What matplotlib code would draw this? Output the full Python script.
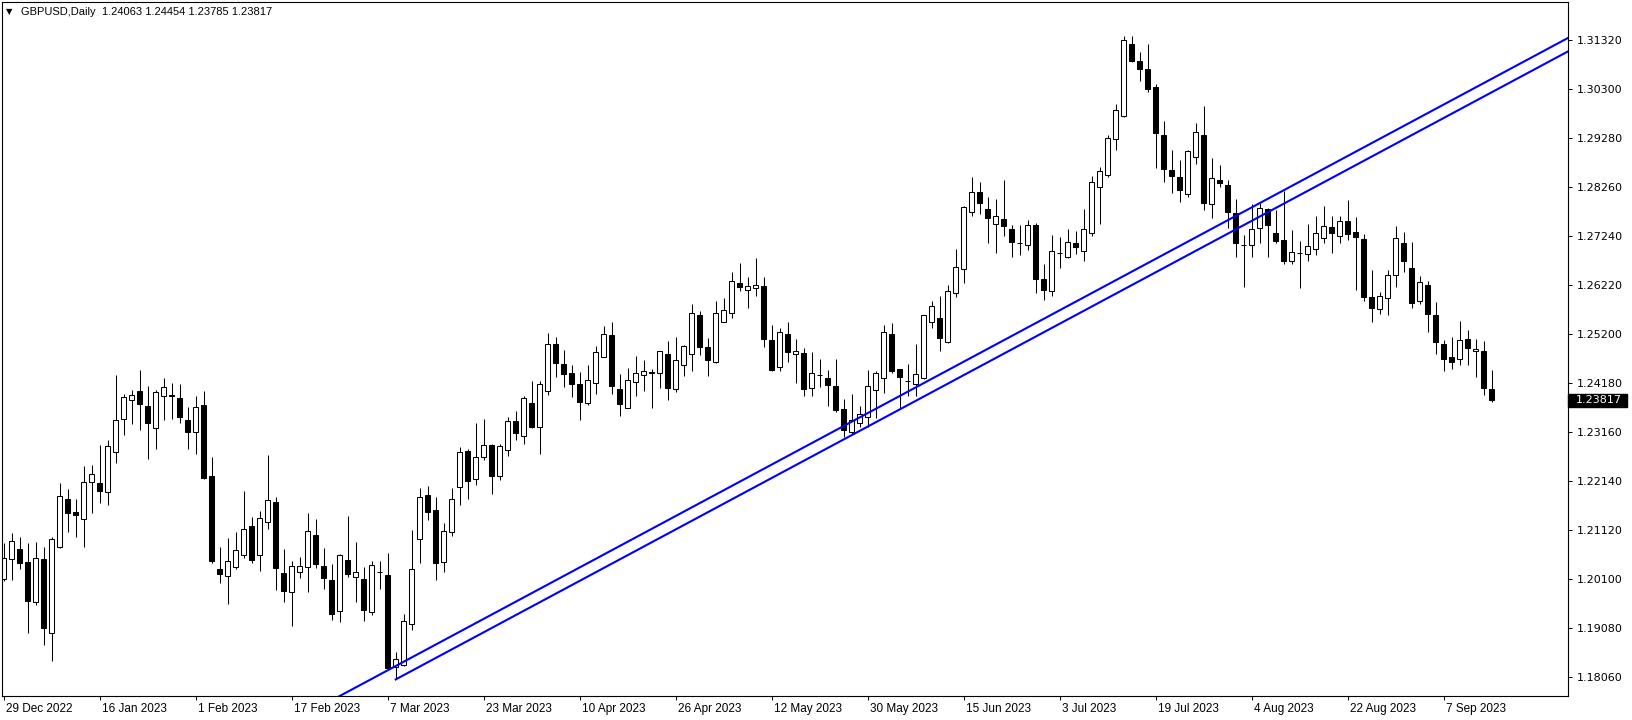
import numpy as np
import pandas as pd
import matplotlib
matplotlib.use('Agg')
import matplotlib.pyplot as plt
import matplotlib.transforms as mtransforms
from matplotlib.patches import Rectangle

# GBPUSD daily candles, 29 Dec 2022 .. 15 Sep 2023 (weekdays)
dates = pd.bdate_range('2022-12-29', periods=187)

opens = [1.2011, 1.2051, 1.2072, 1.2045, 1.1963, 1.2051, 1.1897, 1.2077, 1.2176, 1.2149,
         1.2134, 1.2211, 1.2209, 1.2192, 1.2274, 1.2344, 1.2382, 1.2401, 1.2371, 1.2324,
         1.2392, 1.2393, 1.2386, 1.2342, 1.2315, 1.2372, 1.2224, 1.2031, 1.2016, 1.2034,
         1.2061, 1.2120, 1.2061, 1.2128, 1.2170, 1.2022, 1.1984, 1.2024, 1.2036, 1.2101,
         1.2037, 1.2007, 1.1944, 1.2049, 1.2014, 1.2011, 1.1941, 1.2024, 1.2018, 1.1827,
         1.1830, 1.1916, 1.2093, 1.2184, 1.2154, 1.2046, 1.2107, 1.2201, 1.2276, 1.2218,
         1.2265, 1.2288, 1.2224, 1.2278, 1.2338, 1.2307, 1.2376, 1.2326, 1.2401, 1.2499,
         1.2457, 1.2438, 1.2415, 1.2377, 1.2417, 1.2473, 1.2518, 1.2405, 1.2367, 1.2421,
         1.2435, 1.2440, 1.2439, 1.2478, 1.2405, 1.2456, 1.2479, 1.2559, 1.2494, 1.2462,
         1.2546, 1.2563, 1.2626, 1.2611, 1.2615, 1.2620, 1.2507, 1.2451, 1.2520, 1.2478,
         1.2480, 1.2407, 1.2435, 1.2428, 1.2411, 1.2363, 1.2317, 1.2335, 1.2348, 1.2403,
         1.2429, 1.2520, 1.2447, 1.2423, 1.2415, 1.2429, 1.2546, 1.2553, 1.2504, 1.2605,
         1.2655, 1.2773, 1.2815, 1.2780, 1.2748, 1.2759, 1.2738, 1.2709, 1.2705, 1.2746,
         1.2634, 1.2609, 1.2688, 1.2680, 1.2709, 1.2693, 1.2730, 1.2825, 1.2850, 1.2925,
         1.2973, 1.3123, 1.3088, 1.3071, 1.3035, 1.2934, 1.2861, 1.2846, 1.2812, 1.2888,
         1.2934, 1.2790, 1.2841, 1.2831, 1.2771, 1.2706, 1.2705, 1.2740, 1.2780, 1.2730,
         1.2715, 1.2673, 1.2688, 1.2686, 1.2696, 1.2719, 1.2742, 1.2723, 1.2755, 1.2732,
         1.2717, 1.2598, 1.2573, 1.2594, 1.2642, 1.2709, 1.2657, 1.2589, 1.2621, 1.2559,
         1.2499, 1.2472, 1.2467, 1.2509, 1.2484, 1.2484, 1.24063]
highs = [1.2085, 1.2105, 1.2097, 1.2084, 1.2087, 1.2076, 1.2097, 1.2209, 1.2197, 1.2176,
         1.2245, 1.2247, 1.2289, 1.2299, 1.2435, 1.2396, 1.2403, 1.2446, 1.2412, 1.2403,
         1.2428, 1.2417, 1.2415, 1.2369, 1.2392, 1.2402, 1.2263, 1.2077, 1.2095, 1.2108,
         1.2193, 1.2139, 1.2152, 1.2268, 1.2180, 1.2072, 1.2047, 1.2056, 1.2147, 1.2135,
         1.2075, 1.2041, 1.2063, 1.2141, 1.2087, 1.2035, 1.2047, 1.2047, 1.2064, 1.1859,
         1.1937, 1.2112, 1.2199, 1.2204, 1.2180, 1.2126, 1.2199, 1.2285, 1.2281, 1.2334,
         1.2343, 1.2291, 1.2292, 1.2347, 1.2360, 1.2390, 1.2422, 1.2422, 1.2523, 1.2514,
         1.2487, 1.2455, 1.2441, 1.2455, 1.2495, 1.2536, 1.2544, 1.2437, 1.2449, 1.2474,
         1.2466, 1.2447, 1.2485, 1.2505, 1.2513, 1.2498, 1.2583, 1.2568, 1.2511, 1.2589,
         1.2596, 1.2650, 1.2668, 1.2638, 1.2678, 1.2638, 1.2538, 1.2532, 1.2544, 1.2509,
         1.2490, 1.2483, 1.2469, 1.2445, 1.2468, 1.2385, 1.2395, 1.2370, 1.2445, 1.2442,
         1.2538, 1.2543, 1.2447, 1.2457, 1.2499, 1.2560, 1.2588, 1.2599, 1.2623, 1.2697,
         1.2786, 1.2847, 1.2836, 1.2805, 1.2801, 1.2841, 1.2747, 1.2747, 1.2757, 1.2752,
         1.2666, 1.2726, 1.2721, 1.2738, 1.2734, 1.2780, 1.2849, 1.2868, 1.2934, 1.2999,
         1.3140, 1.3140, 1.3107, 1.3124, 1.3040, 1.2963, 1.2903, 1.2882, 1.2903, 1.2960,
         1.2995, 1.2886, 1.2872, 1.2841, 1.2802, 1.2726, 1.2790, 1.2792, 1.2783, 1.2778,
         1.2818, 1.2737, 1.2714, 1.2750, 1.2766, 1.2786, 1.2766, 1.2766, 1.2799, 1.2763,
         1.2728, 1.2653, 1.2608, 1.2653, 1.2745, 1.2732, 1.2711, 1.2640, 1.2630, 1.2586,
         1.2508, 1.2514, 1.2547, 1.2528, 1.2509, 1.2505, 1.24454]
lows = [1.2005, 1.2007, 1.2030, 1.1898, 1.1956, 1.1872, 1.1840, 1.2075, 1.2108, 1.2098,
        1.2077, 1.2148, 1.2169, 1.2165, 1.2252, 1.2310, 1.2333, 1.2320, 1.2260, 1.2281,
        1.2342, 1.2344, 1.2335, 1.2281, 1.2271, 1.2218, 1.2044, 1.2002, 1.1959, 1.2030,
        1.2054, 1.2044, 1.2027, 1.2115, 1.1988, 1.1963, 1.1913, 1.2013, 1.1984, 1.2032,
        1.1990, 1.1925, 1.1921, 1.2015, 1.1963, 1.1923, 1.1936, 1.1990, 1.1822, 1.1801,
        1.1828, 1.1904, 1.2044, 1.2133, 1.2008, 1.2025, 1.2100, 1.2164, 1.2177, 1.2206,
        1.2258, 1.2187, 1.2216, 1.2267, 1.2300, 1.2291, 1.2324, 1.2271, 1.2394, 1.2431,
        1.2410, 1.2388, 1.2342, 1.2373, 1.2396, 1.2473, 1.2396, 1.2350, 1.2365, 1.2390,
        1.2402, 1.2365, 1.2408, 1.2383, 1.2400, 1.2433, 1.2444, 1.2477, 1.2433, 1.2460,
        1.2546, 1.2554, 1.2610, 1.2575, 1.2600, 1.2494, 1.2442, 1.2442, 1.2462, 1.2419,
        1.2390, 1.2390, 1.2410, 1.2370, 1.2357, 1.2306, 1.2312, 1.2327, 1.2327, 1.2346,
        1.2398, 1.2439, 1.2367, 1.2390, 1.2392, 1.2426, 1.2532, 1.2485, 1.2502, 1.2598,
        1.2627, 1.2766, 1.2769, 1.2710, 1.2689, 1.2723, 1.2681, 1.2684, 1.2695, 1.2605,
        1.2591, 1.2599, 1.2657, 1.2678, 1.2686, 1.2671, 1.2723, 1.2748, 1.2846, 1.2902,
        1.2972, 1.3087, 1.3047, 1.3024, 1.2865, 1.2837, 1.2814, 1.2795, 1.2806, 1.2873,
        1.2779, 1.2761, 1.2827, 1.2740, 1.2680, 1.2618, 1.2680, 1.2710, 1.2681, 1.2710,
        1.2666, 1.2665, 1.2615, 1.2673, 1.2685, 1.2709, 1.2688, 1.2709, 1.2716, 1.2612,
        1.2589, 1.2546, 1.2562, 1.2560, 1.2617, 1.2650, 1.2575, 1.2583, 1.2525, 1.2479,
        1.2444, 1.2448, 1.2455, 1.2455, 1.2431, 1.2393, 1.23785]
closes = [1.2053, 1.2089, 1.2043, 1.1965, 1.2053, 1.1909, 1.2093, 1.2182, 1.2148, 1.2144,
          1.2211, 1.2228, 1.2194, 1.2286, 1.2342, 1.2388, 1.2394, 1.2375, 1.2335, 1.2399,
          1.2409, 1.2392, 1.2348, 1.2315, 1.2369, 1.2220, 1.2048, 1.2020, 1.2047, 1.2070,
          1.2115, 1.2050, 1.2138, 1.2174, 1.2032, 1.1986, 1.2038, 1.2038, 1.2109, 1.2042,
          1.2013, 1.1938, 1.2061, 1.2021, 1.2025, 1.1946, 1.2040, 1.2024, 1.1824, 1.1843,
          1.1922, 1.2030, 1.2180, 1.2150, 1.2044, 1.2109, 1.2176, 1.2274, 1.2215, 1.2265,
          1.2288, 1.2225, 1.2286, 1.2338, 1.2313, 1.2386, 1.2327, 1.2415, 1.2499, 1.2459,
          1.2436, 1.2415, 1.2379, 1.2424, 1.2482, 1.2521, 1.2412, 1.2375, 1.2424, 1.2438,
          1.2442, 1.2439, 1.2484, 1.2408, 1.2465, 1.2496, 1.2563, 1.2494, 1.2465, 1.2563,
          1.2571, 1.2630, 1.2617, 1.2619, 1.2623, 1.2510, 1.2445, 1.2525, 1.2483, 1.2484,
          1.2406, 1.2438, 1.2435, 1.2413, 1.2362, 1.2320, 1.2342, 1.2353, 1.2411, 1.2438,
          1.2524, 1.2442, 1.2431, 1.2423, 1.2436, 1.2559, 1.2578, 1.2511, 1.2609, 1.2660,
          1.2784, 1.2815, 1.2792, 1.2762, 1.2765, 1.2745, 1.2712, 1.2709, 1.2746, 1.2634,
          1.2611, 1.2692, 1.2688, 1.2711, 1.2702, 1.2738, 1.2836, 1.2859, 1.2929, 1.2986,
          1.3133, 1.3088, 1.3071, 1.3031, 1.2938, 1.2864, 1.2849, 1.2820, 1.2901, 1.2940,
          1.2792, 1.2844, 1.2834, 1.2775, 1.2709, 1.2706, 1.2738, 1.2782, 1.2746, 1.2714,
          1.2673, 1.2690, 1.2688, 1.2703, 1.2730, 1.2745, 1.2730, 1.2755, 1.2729, 1.2721,
          1.2598, 1.2575, 1.2600, 1.2642, 1.2719, 1.2671, 1.2584, 1.2628, 1.2562, 1.2504,
          1.2469, 1.2462, 1.2507, 1.2490, 1.2488, 1.2407, 1.23817]

# trendline anchors (bar index, price)
upper_line = ([48, 150], [1.1820, 1.2730])
lower_line = ([49, 150], [1.1801, 1.2702])

price_ticks = [1.18060 + 0.0102 * k for k in range(14)]
date_tick_idx = list(range(0, 187, 12))

W, H = 1633, 720
fig = plt.figure(figsize=(W / 100, H / 100), dpi=100)
ax = fig.add_axes([2 / W, 24 / H, 1566 / W, 694 / H])

o = np.array(opens); h = np.array(highs); l = np.array(lows); c = np.array(closes)
x = np.arange(len(o))
up = c >= o

# wicks
ax.vlines(x, l, h, color='black', linewidth=0.75, zorder=1)
# bodies
bottom = np.minimum(o, c)
height = np.abs(c - o)
ax.bar(x[up], height[up], bottom=bottom[up], width=0.55, color='white',
       edgecolor='black', linewidth=0.75, zorder=2)
ax.bar(x[~up], height[~up], bottom=bottom[~up], width=0.55, color='black',
       edgecolor='black', linewidth=0.75, zorder=2)

# trendlines
for (xs, ys), x0 in ((upper_line, 20), (lower_line, 49)):
    slope = (ys[1] - ys[0]) / (xs[1] - xs[0])
    xx = np.array([x0, 210])
    ax.plot(xx, ys[0] + slope * (xx - xs[0]), color='#0000FF', linewidth=1.5, zorder=3)

ax.set_xlim(-0.2125, 195.54)
ax.set_ylim(1.17665, 1.32111)

# price axis on the right
ax.yaxis.tick_right()
ax.set_yticks(price_ticks)
ax.set_yticklabels(['%.5f' % p for p in price_ticks])
ax.tick_params(axis='y', which='both', direction='out', length=3, width=0.7,
               pad=3, labelsize=8, left=False, right=True)
for t in ax.get_yticklabels():
    t.set_fontfamily('DejaVu Sans')

# date axis
ax.set_xticks(date_tick_idx)
ax.set_xticklabels([f"{dates[i].day} {dates[i]:%b %Y}" for i in date_tick_idx])
ax.tick_params(axis='x', direction='out', length=3, width=0.7, pad=2,
               labelsize=8.5, top=False)
offset = mtransforms.ScaledTranslation(2 / 100, 0, fig.dpi_scale_trans)
for t in ax.get_xticklabels():
    t.set_horizontalalignment('left')
    t.set_fontfamily('Liberation Sans')
    t.set_transform(t.get_transform() + offset)

for s in ax.spines.values():
    s.set_linewidth(0.8)
    s.set_color('black')

# current price box
px_per_price = 694 / (1.32111 - 1.17665)
bh = 13 / px_per_price
trans = mtransforms.blended_transform_factory(ax.transAxes, ax.transData)
ax.add_patch(Rectangle((1.0, closes[-1] - bh / 2), 59 / 1566, bh, transform=trans,
                       facecolor='black', edgecolor='black', clip_on=False, zorder=5))
ax.text(1.0 + 8 / 1566, closes[-1], '%.5f' % closes[-1], transform=trans,
        color='white', fontsize=8, family='DejaVu Sans', ha='left', va='center',
        zorder=6, clip_on=False)

# header
fig.text(6 / W, 1 - 12 / H, '\u25bc', fontsize=6, family='DejaVu Sans',
         ha='left', va='center')
fig.text(21 / W, 1 - 12 / H,
         'GBPUSD,Daily  %.5f %.5f %.5f %.5f' % (opens[-1], highs[-1], lows[-1], closes[-1]),
         fontsize=8, family='Liberation Sans', ha='left', va='center')

fig.savefig('out.png', dpi=100, facecolor='white')
